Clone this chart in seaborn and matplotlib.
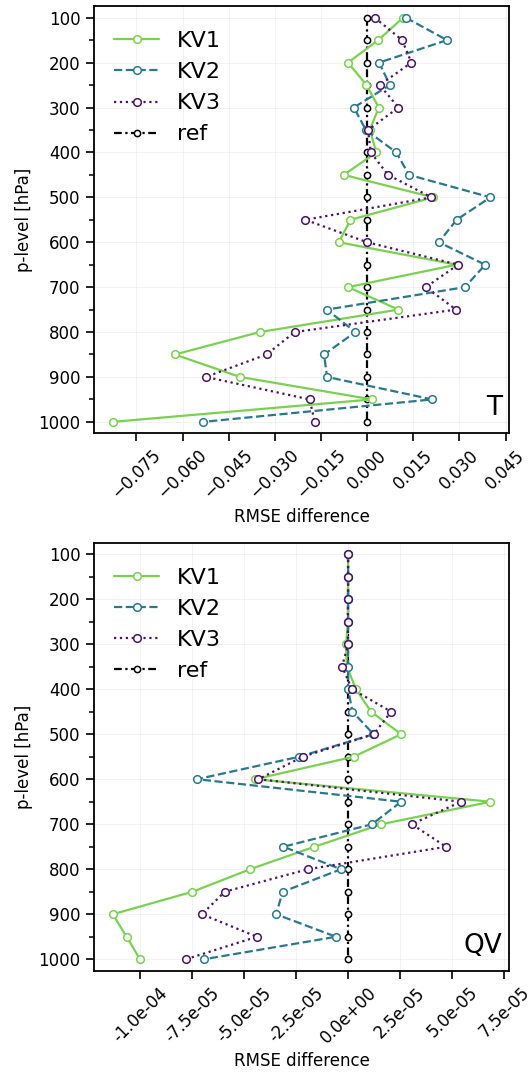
import numpy as np
import pandas as pd
import matplotlib
matplotlib.use("Agg")
import matplotlib.pyplot as plt
import matplotlib.ticker as mticker
import seaborn as sns

sns.set_theme(style="ticks", rc={'text.color': 'black', 'axes.labelcolor': 'black',
                                 'xtick.color': 'black', 'ytick.color': 'black',
                                 'axes.edgecolor': 'black'})
plt.rcParams['font.family'] = ['DejaVu Sans']

# pressure levels [hPa]
levels = [100, 150, 200, 250, 300, 350, 400, 450, 500, 550,
          600, 650, 700, 750, 800, 850, 900, 950, 1000]

# RMSE difference for temperature
t_kv1 = [0.0117, 0.0036, -0.0062, -0.0002, 0.0038, 0.0009, 0.0030, -0.0076, 0.0215, -0.0054,
         -0.0092, 0.0291, -0.0062, 0.0102, -0.0349, -0.0625, -0.0413, 0.0016, -0.0827]
t_kv2 = [0.0126, 0.0260, 0.0039, 0.0074, -0.0043, -0.0004, 0.0095, 0.0136, 0.0401, 0.0291,
         0.0233, 0.0384, 0.0318, -0.0131, -0.0038, -0.0140, -0.0130, 0.0212, -0.0533]
t_kv3 = [0.0025, 0.0114, 0.0144, 0.0041, 0.0102, 0.0003, 0.0012, 0.0068, 0.0209, -0.0201,
         0.0000, 0.0296, 0.0191, 0.0289, -0.0235, -0.0327, -0.0524, -0.0187, -0.0170]

# RMSE difference for specific humidity
qv_kv1 = [0.0, 0.0, 0.0, 0.0, -1.0e-6, -0.6e-6, 3.8e-6, 1.10e-5, 2.55e-5, 2.7e-6,
          -4.47e-5, 6.84e-5, 1.60e-5, -1.62e-5, -4.71e-5, -7.48e-5, -1.131e-4, -1.064e-4, -1.0e-4]
qv_kv2 = [0.0, 0.0, 0.0, 0.0, 0.0, 0.0, 0.0, 2.1e-6, 1.22e-5, -2.34e-5,
          -7.26e-5, 2.55e-5, 1.15e-5, -3.11e-5, -3.4e-6, -3.14e-5, -3.46e-5, -5.8e-6, -6.94e-5]
qv_kv3 = [0.0, 0.0, 0.0, -0.2e-6, 0.0, -2.9e-6, 1.9e-6, 2.07e-5, 1.23e-5, -2.18e-5,
          -4.31e-5, 5.43e-5, 3.06e-5, 4.71e-5, -1.94e-5, -5.93e-5, -7.02e-5, -4.38e-5, -7.8e-5]

series = ['KV1', 'KV2', 'KV3', 'ref']
colors = {'KV1': '#7ad151', 'KV2': '#2a788e', 'KV3': '#481467', 'ref': 'black'}
styles = {'KV1': '-', 'KV2': '--', 'KV3': ':', 'ref': (0, (3.5, 1.6, 1.0, 1.6))}

fig = plt.figure(figsize=(5.3, 10.76), dpi=100)
ax1 = fig.add_axes([0.177, 0.5975, 0.784, 0.3965])
ax2 = fig.add_axes([0.177, 0.0980, 0.784, 0.3975])


def draw_panel(ax, kv1, kv2, kv3, name):
    vals = {'KV1': kv1, 'KV2': kv2, 'KV3': kv3, 'ref': [0.0] * len(levels)}
    # reference line goes underneath the experiments
    for s in ['ref', 'KV1', 'KV2', 'KV3']:
        df = pd.DataFrame({'diff': vals[s], 'plev': levels})
        sns.lineplot(data=df, x='diff', y='plev', orient='y', ax=ax, label=s,
                     color=colors[s], linestyle=styles[s], linewidth=1.6,
                     marker='o', markersize=5.5 if s != 'ref' else 4.5,
                     markerfacecolor='white', markeredgecolor=colors[s],
                     markeredgewidth=1.1, errorbar=None)
    ax.set_ylim(1025, 75)
    ax.yaxis.set_major_locator(mticker.MultipleLocator(100))
    ax.yaxis.set_minor_locator(mticker.MultipleLocator(50))
    ax.grid(True, which='major', color='#e6e6e6', alpha=0.5, linewidth=0.7)
    ax.tick_params(axis='both', which='major', labelsize=12, length=6, width=1.2)
    ax.tick_params(axis='y', which='minor', length=3.5, width=1.1)
    for sp in ax.spines.values():
        sp.set_linewidth(1.3)
    ax.set_xlabel('RMSE difference', fontsize=12)
    ax.set_ylabel('p-level [hPa]', fontsize=12)
    handles, labels = ax.get_legend_handles_labels()
    order = [labels.index(s) for s in series]
    ax.legend([handles[i] for i in order], [labels[i] for i in order],
              loc='upper left', bbox_to_anchor=(0.028, 0.963), borderaxespad=0,
              frameon=False, fontsize=16, handlelength=2.0, labelspacing=0.5)
    ax.text(0.983, 0.028, name, transform=ax.transAxes, ha='right', va='bottom',
            fontsize=19)
    plt.setp(ax.get_xticklabels(), rotation=45)


draw_panel(ax1, t_kv1, t_kv2, t_kv3, 'T')
ax1.xaxis.set_major_locator(mticker.MultipleLocator(0.015))

draw_panel(ax2, qv_kv1, qv_kv2, qv_kv3, 'QV')
ax2.xaxis.set_major_locator(mticker.MultipleLocator(2.5e-5))
ax2.xaxis.set_major_formatter(mticker.FormatStrFormatter('%.1e'))
plt.setp(ax2.get_xticklabels(), rotation=45)

fig.savefig('out.png', dpi=100)
